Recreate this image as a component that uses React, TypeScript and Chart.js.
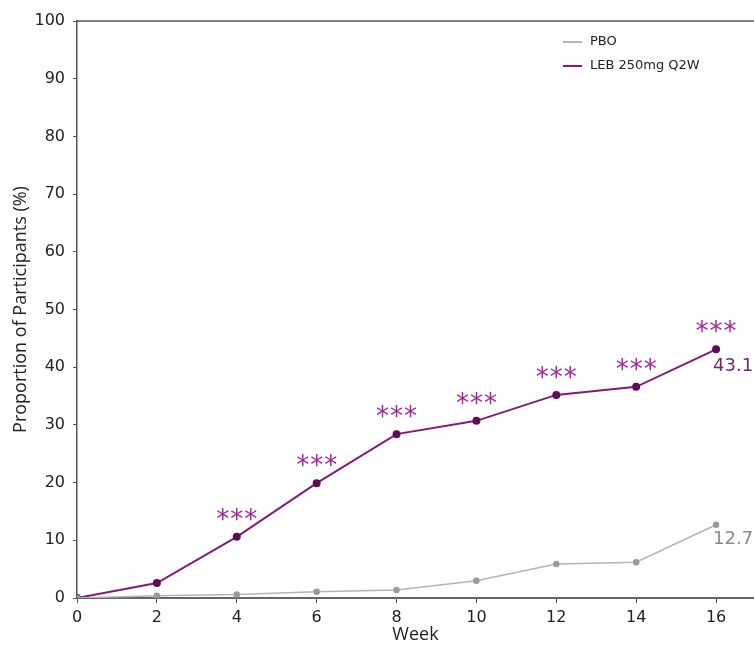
import React, { useEffect, useRef } from "react";
import { Chart, registerables } from "chart.js";

Chart.register(...registerables);

const weeks = [0, 2, 4, 6, 8, 10, 12, 14, 16];
const pboValues = [0, 0.4, 0.6, 1.1, 1.4, 3.0, 5.9, 6.2, 12.7];
const lebValues = [0, 2.6, 10.6, 19.9, 28.4, 30.7, 35.2, 36.6, 43.1];
const lebStars = ["", "", "***", "***", "***", "***", "***", "***", "***"];
const seriesNames = ["PBO", "LEB 250mg Q2W"];
const endLabels = ["12.7", "43.1"];
const xTicks = [0, 2, 4, 6, 8, 10, 12, 14, 16];
const yTicks = [0, 10, 20, 30, 40, 50, 60, 70, 80, 90, 100];

const PBO_COLOR = "#b4b4b4";
const PBO_POINT = "#9a9a9a";
const LEB_COLOR = "#86197a";
const LEB_POINT = "#5e0c55";
const STAR_COLOR = "#a8249b";
const FONT = "'DejaVu Sans', Verdana, sans-serif";
const TITLE_FONT = "'Open Sans', 'Noto Sans', sans-serif";

const overlay = {
  id: "overlay",
  afterDatasetsDraw(chart: any) {
    const { ctx, chartArea } = chart;
    ctx.save();
    // top frame line
    ctx.strokeStyle = "#555";
    ctx.lineWidth = 1.5;
    ctx.beginPath();
    ctx.moveTo(chartArea.left, chartArea.top);
    ctx.lineTo(chartArea.right, chartArea.top);
    ctx.stroke();

    // stars above LEB points
    const lebMeta = chart.getDatasetMeta(1);
    ctx.fillStyle = STAR_COLOR;
    ctx.font = `26px ${FONT}`;
    ctx.textAlign = "center";
    ctx.textBaseline = "alphabetic";
    (ctx as any).letterSpacing = "1px";
    lebMeta.data.forEach((pt: any, i: number) => {
      const s = lebStars[i];
      if (!s) return;
      ctx.fillText(s, pt.x + 0.5, pt.y - 9);
    });
    (ctx as any).letterSpacing = "0px";

    // end labels
    ctx.font = `18px ${FONT}`;
    ctx.textAlign = "left";
    ctx.textBaseline = "top";
    const pboMeta = chart.getDatasetMeta(0);
    const lastP = pboMeta.data[pboMeta.data.length - 1];
    const lastL = lebMeta.data[lebMeta.data.length - 1];
    ctx.fillStyle = "#8a8a8a";
    ctx.fillText(endLabels[0], lastP.x - 3, lastP.y + 6);
    ctx.fillStyle = "#6e2a66";
    ctx.fillText(endLabels[1], lastL.x - 3, lastL.y + 8);

    // legend
    const items = [
      { name: seriesNames[0], color: PBO_COLOR },
      { name: seriesNames[1], color: LEB_COLOR },
    ];
    ctx.font = `13px ${FONT}`;
    ctx.textBaseline = "middle";
    items.forEach((it, i) => {
      const y = 42 + i * 24;
      ctx.strokeStyle = it.color;
      ctx.lineWidth = 2;
      ctx.beginPath();
      ctx.moveTo(563, y);
      ctx.lineTo(582, y);
      ctx.stroke();
      ctx.fillStyle = "#222";
      ctx.fillText(it.name, 590, y);
    });
    ctx.restore();
  },
};

export default function App() {
  const ref = useRef<HTMLCanvasElement>(null);
  useEffect(() => {
    if (!ref.current) return;
    const chart = new Chart(ref.current, {
      type: "line",
      data: {
        datasets: [
          {
            label: seriesNames[0],
            data: weeks.map((w, i) => ({ x: w, y: pboValues[i] })),
            borderColor: PBO_COLOR,
            backgroundColor: PBO_POINT,
            pointBackgroundColor: PBO_POINT,
            pointBorderColor: PBO_POINT,
            borderWidth: 1.5,
            pointRadius: 2.5,
            tension: 0,
          },
          {
            label: seriesNames[1],
            data: weeks.map((w, i) => ({ x: w, y: lebValues[i] })),
            borderColor: LEB_COLOR,
            backgroundColor: LEB_POINT,
            pointBackgroundColor: LEB_POINT,
            pointBorderColor: LEB_POINT,
            borderWidth: 2,
            pointRadius: 3,
            tension: 0,
          },
        ],
      },
      options: {
        animation: false,
        responsive: true,
        maintainAspectRatio: false,
        layout: { padding: { top: 21, right: 0, left: 0, bottom: 0 } },
        plugins: {
          legend: { display: false },
          tooltip: { enabled: false },
        },
        scales: {
          x: {
            type: "linear",
            min: 0,
            max: 16.95,
            afterBuildTicks: (scale: any) => {
              scale.ticks = xTicks.map((v) => ({ value: v }));
            },
            afterFit: (scale: any) => {
              scale.height = 48;
            },
            ticks: {
              font: { family: FONT, size: 16 },
              color: "#222",
              padding: 5,
              maxRotation: 0,
              autoSkip: false,
            },
            grid: {
              drawOnChartArea: false,
              drawTicks: true,
              tickLength: 5,
              tickColor: "#555",
              color: "#555",
            },
            border: { display: true, color: "#666", width: 2 },
            title: {
              display: true,
              text: "Week",
              font: { family: TITLE_FONT, size: 18 },
              color: "#222",
              padding: 0,
            },
          },
          y: {
            min: 0,
            max: 100,
            afterBuildTicks: (scale: any) => {
              scale.ticks = yTicks.map((v) => ({ value: v }));
            },
            afterFit: (scale: any) => {
              scale.width = 77;
            },
            ticks: {
              font: { family: FONT, size: 16 },
              color: "#222",
              padding: 8,
            },
            grid: {
              drawOnChartArea: false,
              drawTicks: true,
              tickLength: 4,
              tickColor: "#555",
              color: "#555",
            },
            border: { display: true, color: "#555", width: 1.5 },
            title: {
              display: true,
              text: "Proportion of Participants (%)",
              font: { family: TITLE_FONT, size: 18 },
              color: "#222",
              padding: 10,
            },
          },
        },
      },
      plugins: [overlay],
    });
    return () => chart.destroy();
  }, []);
  return (
    <div style={{ position: "fixed", left: 0, top: 0, width: 760, height: 646, background: "#fff" }}>
      <canvas ref={ref} />
    </div>
  );
}
